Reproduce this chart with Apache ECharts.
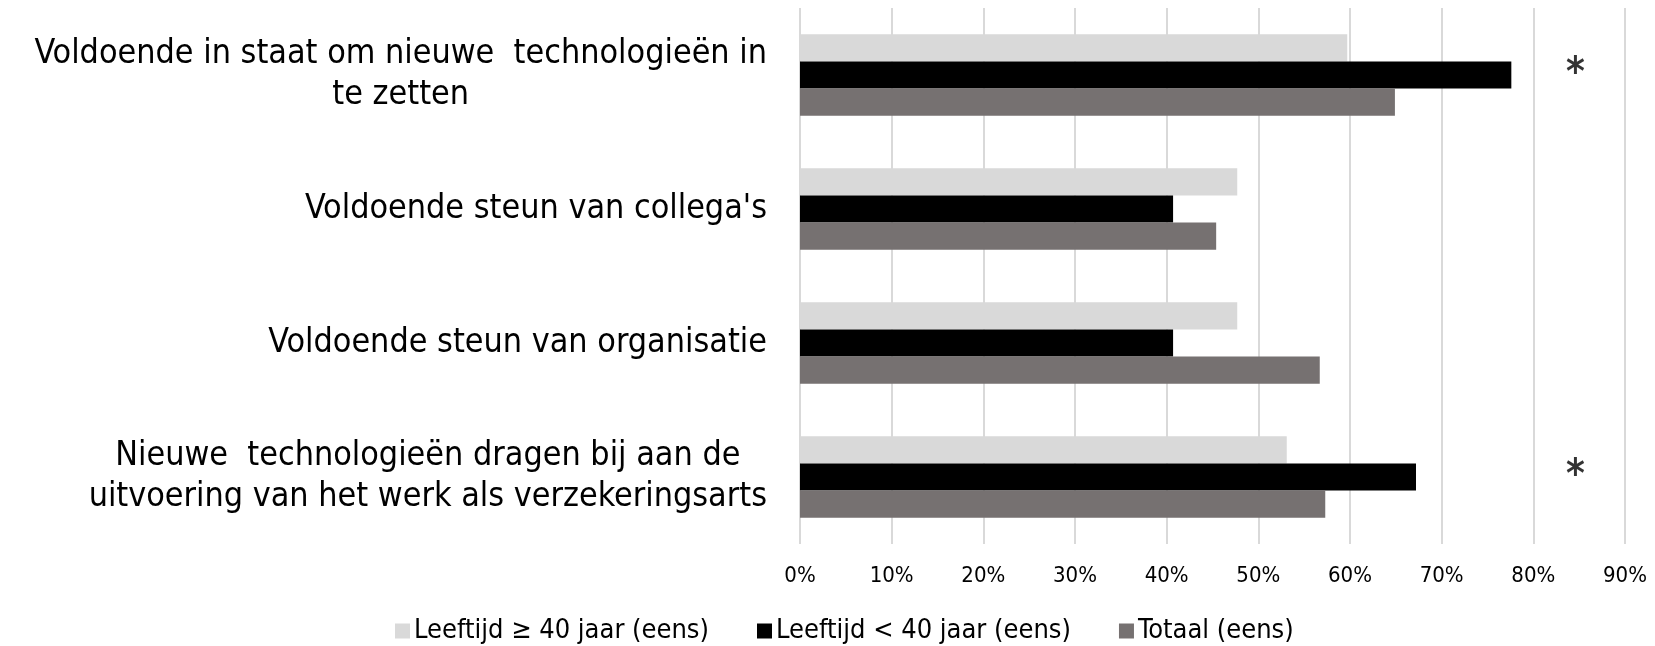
<!DOCTYPE html>
<html><head><meta charset="utf-8">
<script src="https://cdn.jsdelivr.net/npm/echarts@6/dist/echarts.min.js"></script>
<style>html,body{margin:0;padding:0;background:#fff}#c{width:1655px;height:646px}</style>
</head><body><div id="c"></div>
<script>
const categories = [
  "Voldoende in staat om nieuwe  technologieën in\nte zetten",
  "Voldoende steun van collega's",
  "Voldoende steun van organisatie",
  "Nieuwe  technologieën dragen bij aan de\nuitvoering van het werk als verzekeringsarts"
];
const seriesNames = ["Leeftijd ≥ 40 jaar (eens)", "Leeftijd < 40 jaar (eens)", "Totaal (eens)"];
const older = [59.7, 47.7, 47.7, 53.1];
const younger = [77.6, 40.7, 40.7, 67.2];
const total = [64.9, 45.4, 56.7, 57.3];
const significant = ["*", "", "", "*"];
const xTicks = [0, 10, 20, 30, 40, 50, 60, 70, 80, 90];
const markerX = 84.6;

const FONT = "DejaVu Sans Condensed";
const chart = echarts.init(document.getElementById('c'));
chart.setOption({
  animation: false,
  textStyle: { fontFamily: FONT },
  grid: { left: 800, right: 30, top: 8, bottom: 102, containLabel: false },
  legend: {
    top: 615, left: 395, itemWidth: 15, itemHeight: 15, itemGap: 48, padding: 0,
    icon: 'rect',
    textStyle: { fontSize: 27, lineHeight: 32, color: '#000', fontFamily: FONT, padding: [0, 0, 0, -1] },
    data: seriesNames
  },
  xAxis: {
    type: 'value', min: xTicks[0], max: xTicks[xTicks.length - 1], interval: 10,
    axisLine: { show: false }, axisTick: { show: false },
    splitLine: { lineStyle: { color: '#d9d9d9', width: 2 } },
    axisLabel: { formatter: v => v + '%', fontSize: 22, color: '#000', margin: 21, fontFamily: FONT }
  },
  yAxis: {
    type: 'category', data: categories, inverse: true,
    axisLine: { show: false }, axisTick: { show: false },
    axisLabel: {
      margin: 33, color: '#000', fontSize: 33.8, lineHeight: 41, fontFamily: FONT,
      formatter: v => v.split('\n').map(l => '{c|' + l + '}').join('\n'),
      rich: { c: { align: 'center', fontSize: 33.8, lineHeight: 41, fontFamily: FONT, color: '#000' } }
    }
  },
  series: [
    { name: seriesNames[0], type: 'bar', data: older, barGap: '0%', barCategoryGap: '39%', itemStyle: { color: '#d9d9d9' } },
    { name: seriesNames[1], type: 'bar', data: younger, barGap: '0%', barCategoryGap: '39%', itemStyle: { color: '#000000' } },
    { name: seriesNames[2], type: 'bar', data: total, barGap: '0%', barCategoryGap: '39%', itemStyle: { color: '#767171' } },
    {
      type: 'scatter', symbolSize: 0, silent: true,
      data: significant.map((s, i) => s ? { value: [markerX, i], label: { formatter: s } } : null).filter(d => d),
      label: { show: true, position: 'inside', fontSize: 40, fontWeight: 'bold', color: '#000', fontFamily: FONT, offset: [0, 0] }
    }
  ]
});
</script></body></html>
